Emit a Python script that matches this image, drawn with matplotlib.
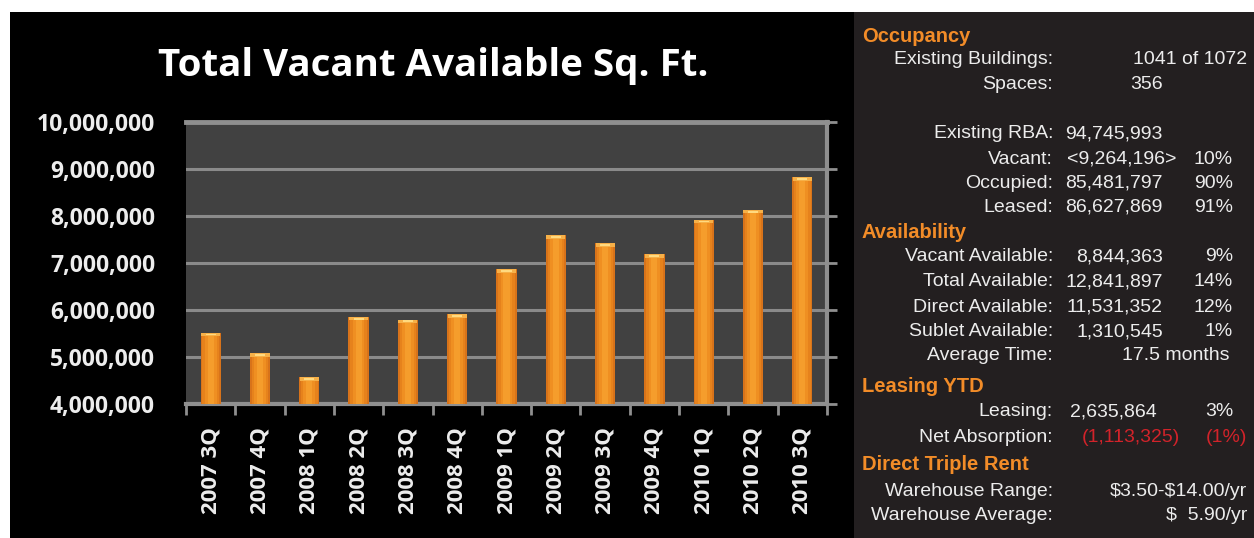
import matplotlib
matplotlib.use("Agg")
import matplotlib.pyplot as plt
from matplotlib.patches import Rectangle
from matplotlib.ticker import FuncFormatter, FixedLocator
import numpy as np

# ---------------- data ----------------
quarters = ["2007 3Q", "2007 4Q", "2008 1Q", "2008 2Q", "2008 3Q", "2008 4Q",
            "2009 1Q", "2009 2Q", "2009 3Q", "2009 4Q", "2010 1Q", "2010 2Q", "2010 3Q"]
vacant_sqft = [5510000, 5070000, 4570000, 5850000, 5790000, 5900000,
               6870000, 7590000, 7420000, 7190000, 7920000, 8130000, 8820000]
y_ticks = [4000000, 5000000, 6000000, 7000000, 8000000, 9000000, 10000000]
title = "Total Vacant Available Sq. Ft."

# side panel rows: (kind, label, value, pct)
panel_rows = [
    ("head", "Occupancy", "", ""),
    ("row", "Existing Buildings:", "", "1041 of 1072"),
    ("row", "Spaces:", "356@", ""),
    ("gap", "", "", ""),
    ("row", "Existing RBA:", "94,745,993", ""),
    ("row", "Vacant:", "<9,264,196>", "10%"),
    ("row", "Occupied:", "85,481,797", "90%"),
    ("row", "Leased:", "86,627,869", "91%"),
    ("head", "Availability", "", ""),
    ("row", "Vacant Available:", "8,844,363", "9%"),
    ("row", "Total Available:", "12,841,897", "14%"),
    ("row", "Direct Available:", "11,531,352", "12%"),
    ("row", "Sublet Available:", "1,310,545", "1%"),
    ("row", "Average Time:", "", "17.5 months"),
    ("head", "Leasing YTD", "", ""),
    ("row", "Leasing:", "2,635,864", "3%"),
    ("red", "Net Absorption:", "(1,113,325)", "(1%)"),
    ("head", "Direct Triple Rent", "", ""),
    ("row", "Warehouse Range:", "", "\\$3.50-\\$14.00/yr"),
    ("row", "Warehouse Average:", "", "\\$  5.90/yr"),
]
row_y = [36, 60, 84, 109, 134, 159, 183, 207, 232, 257, 282, 307, 332, 356,
         386, 412, 437, 465, 491, 516]

W, H = 1254, 538
fig = plt.figure(figsize=(W / 100, H / 100), dpi=100)
fig.patch.set_facecolor("white")

def fx(px):
    return px / W

def fy(py):
    return 1 - py / H

# black chart panel and dark side panel (background axes)
bg = fig.add_axes([0, 0, 1, 1], zorder=-10)
bg.set_xlim(0, W)
bg.set_ylim(H, 0)
bg.axis("off")
bg.add_patch(Rectangle((10, 12), 844, H - 12, facecolor="black", edgecolor="none"))
bg.add_patch(Rectangle((854, 12), W - 854, H - 12, facecolor="#231f20", edgecolor="none"))

# ---------------- chart ----------------
left, right, top, bottom = 186, 827, 122, 403.5
ax = fig.add_axes([fx(left), fy(bottom), fx(right) - fx(left), fy(top) - fy(bottom)], zorder=1)
ax.set_facecolor("#414141")
x = np.arange(len(quarters))
ax.set_xlim(-0.5, len(quarters) - 0.5)
ax.set_ylim(y_ticks[0], y_ticks[-1])

grid_c = "#8a8a8a"
for v in y_ticks[1:-1]:
    ax.axhline(v, color=grid_c, lw=2.2, zorder=1)

# bars with a simple cylinder-like shading
bw = 0.41
shades = [(1.00, "#d8731a"), (0.82, "#e6821c"), (0.58, "#ef8f22"), (0.30, "#f59d2c")]
for frac, col in shades:
    ax.bar(x, [v - y_ticks[0] for v in vacant_sqft], bottom=y_ticks[0], width=bw * frac,
           color=col, edgecolor="none", zorder=3)
cap = 80000
ax.bar(x, [cap] * len(x), bottom=[v - cap for v in vacant_sqft], width=bw * 0.95,
       color="#f6b048", edgecolor="none", zorder=4)
ax.bar(x, [cap * 0.5] * len(x), bottom=[v - cap * 0.75 for v in vacant_sqft], width=bw * 0.5,
       color="#ffda80", edgecolor="none", zorder=5)

ax.spines["left"].set_visible(False)
ax.spines["top"].set_color("#8f8f8f")
ax.spines["top"].set_linewidth(3.5)
ax.spines["right"].set_color("#8f8f8f")
ax.spines["right"].set_linewidth(3)
ax.spines["bottom"].set_color("#8f8f8f")
ax.spines["bottom"].set_linewidth(3)

chart_font = "Open Sans"
ax.yaxis.set_major_locator(FixedLocator(y_ticks))
ax.yaxis.set_major_formatter(FuncFormatter(lambda v, p: f"{int(v):,}"))
ax.tick_params(axis="y", which="major", left=False, right=True, length=7, width=2,
               color="#8f8f8f", pad=15.3, labelsize=16.5, labelcolor="#ededed")
for lab in ax.get_yticklabels():
    lab.set_fontfamily(chart_font)
    lab.set_fontweight("bold")

ax.set_xticks(x)
ax.set_xticklabels(quarters, rotation=90, fontfamily=chart_font, fontweight="bold",
                   fontsize=16, color="#ededed", va="top", ha="center")
ax.set_xticks(np.arange(-0.5, len(quarters), 1.0), minor=True)
ax.tick_params(axis="x", which="major", length=0, pad=17)
ax.tick_params(axis="x", which="minor", length=8, width=2, color="#8f8f8f")

fig.text(fx(433), fy(66), title, ha="center", va="center", color="white",
         fontsize=27.7, fontfamily=chart_font, fontweight="bold")

# ---------------- side panel ----------------
orange = "#f28c28"
red = "#d2232a"
txt = "#ececec"
fam = "Liberation Sans"
fs = 14
for (kind, label, val, pct), yy in zip(panel_rows, row_y):
    if kind == "gap":
        continue
    if kind == "head":
        fig.text(fx(862), fy(yy), label, ha="left", va="center", color=orange,
                 fontsize=14.5, fontweight="bold", fontfamily=fam)
        continue
    fig.text(fx(1053), fy(yy), label, ha="right", va="center", color=txt,
             fontsize=fs, fontfamily=fam)
    vcol = red if kind == "red" else txt
    if val.endswith("@"):
        fig.text(fx(1130), fy(yy), val[:-1], ha="left", va="center", color=vcol,
                 fontsize=fs, fontfamily=fam)
    elif val.startswith("<"):
        fig.text(fx(1067), fy(yy), val, ha="left", va="center", color=vcol,
                 fontsize=fs, fontfamily=fam)
    elif kind == "red" and val:
        fig.text(fx(1180), fy(yy), val, ha="right", va="center", color=vcol,
                 fontsize=fs, fontfamily=fam)
    elif val:
        xr = 1157 if label == "Leasing:" else 1163
        fig.text(fx(xr), fy(yy), val, ha="right", va="center", color=vcol,
                 fontsize=fs, fontfamily=fam)
    if pct:
        if pct.endswith("%") and kind != "red":
            xr = 1233
        elif pct == "17.5 months":
            xr = 1230
        else:
            xr = 1247
        fig.text(fx(xr), fy(yy), pct, ha="right", va="center", color=vcol,
                 fontsize=fs, fontfamily=fam)

fig.savefig("out.png", dpi=100, facecolor=fig.get_facecolor())
